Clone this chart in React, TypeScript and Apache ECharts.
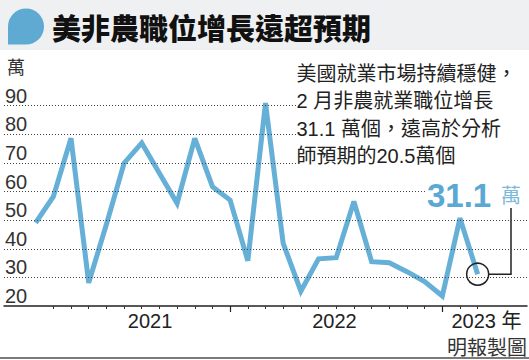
import React, { useEffect, useRef } from "react";
import * as echarts from "echarts";

// ---- data ----
const months: string[] = [
  "2021-01", "2021-02", "2021-03", "2021-04", "2021-05", "2021-06",
  "2021-07", "2021-08", "2021-09", "2021-10", "2021-11", "2021-12",
  "2022-01", "2022-02", "2022-03", "2022-04", "2022-05", "2022-06",
  "2022-07", "2022-08", "2022-09", "2022-10", "2022-11", "2022-12",
  "2023-01", "2023-02",
];
// 非農就業職位增長（萬）
const jobs: number[] = [
  49.1, 58.2, 78.6, 28.1, 48.5, 69.9, 77.0, 66.4, 55.9, 78.6, 61.7, 57.0,
  35.8, 90.9, 41.9, 25.2, 36.5, 36.9, 56.5, 35.5, 35.1, 32.0, 28.5, 23.5,
  50.7, 31.1,
];
const yearLabels: string[] = ["2021", "2022", "2023 年"];
const yearLabelPos: number[] = [6.47, 16.9, 25.5];
const yTicks: number[] = [20, 30, 40, 50, 60, 70, 80, 90];
const minorTickIdx: number[] = Array.from({ length: 25 }, (_, i) => i + 1);
const majorTickIdx: number[] = [11, 23];

const title = "美非農職位增長遠超預期";
const noteLines: string[] = [
  "美國就業市場持續穩健，",
  "2 月非農就業職位增長",
  "31.1 萬個，遠高於分析",
  "師預期的20.5萬個",
];
const bigValue = "31.1";
const unit = "萬";
const credit = "明報製圖";

// ---- layout ----
const X_MIN = -1.79;
const X_MAX = 27.79;
const BLUE = "#66b0d8";
const CJK = "'Noto Sans CJK TC', sans-serif";
const LAT = "'Liberation Sans', 'Noto Sans CJK TC', sans-serif";

echarts.graphic.registerShape(
  "logo",
  echarts.graphic.extendPath("M0,36 L0,18 A18,18 0 1 1 18,36 Z", {}) as any
);

export default function App() {
  const ref = useRef<HTMLDivElement>(null);
  useEffect(() => {
    if (!ref.current) return;
    const chart = echarts.init(ref.current, undefined, { renderer: "svg" });
    const last = jobs.length - 1;
    const gridEnds: Record<number, number> = {
      90: 14.79, 80: 14.79, 70: 14.79, 60: 22.02, 50: X_MAX, 40: X_MAX, 30: X_MAX,
    };
    const gridLines = yTicks.filter((v) => v > yTicks[0]);
    const option: any = {
      animation: false,
      backgroundColor: "#ffffff",
      grid: { left: 4, right: 2, top: 105.7, bottom: 54 },
      xAxis: [
        {
          type: "value",
          min: X_MIN,
          max: X_MAX,
          axisLine: { show: true, lineStyle: { color: "#222", width: 1.5 } },
          axisTick: {
            show: true,
            customValues: minorTickIdx,
            length: 3,
            lineStyle: { color: "#333", width: 1 },
          },
          axisLabel: {
            customValues: yearLabelPos,
            formatter: (v: number) => {
              const i = yearLabelPos.findIndex((p) => Math.abs(p - v) < 1e-6);
              return i >= 0 ? yearLabels[i] : "";
            },
            fontSize: 20,
            color: "#222",
            fontFamily: LAT,
            margin: 5,
          },
          splitLine: { show: false },
        },
        {
          type: "value",
          min: X_MIN,
          max: X_MAX,
          position: "bottom",
          axisLine: { show: false },
          axisTick: {
            show: true,
            customValues: majorTickIdx,
            length: 6,
            lineStyle: { color: "#222", width: 1.2 },
          },
          axisLabel: { show: false },
          splitLine: { show: false },
        },
      ],
      yAxis: {
        type: "value",
        min: 20,
        max: 90,
        interval: 10,
        axisLine: { show: false },
        axisTick: { show: false },
        splitLine: { show: false },
        axisLabel: {
          inside: true,
          align: "left",
          verticalAlign: "bottom",
          margin: 1,
          fontSize: 20,
          color: "#333",
          fontFamily: LAT,
        },
      },
      series: [
        {
          type: "line",
          data: [],
          silent: true,
          z: 1,
          markLine: {
            silent: true,
            symbol: ["none", "none"],
            label: { show: false },
            lineStyle: { type: [1, 2], color: "#444", width: 1 },
            data: gridLines.map((v) => [
              { coord: [X_MIN, v] },
              { coord: [gridEnds[v], v] },
            ]),
          },
        },
        {
          type: "line",
          name: "非農就業",
          data: jobs.map((v, i) => [i, v]),
          showSymbol: false,
          clip: false,
          z: 3,
          lineStyle: { color: BLUE, width: 5, join: "miter", miterLimit: 3 },
          markPoint: {
            silent: true,
            symbol: "circle",
            symbolSize: 22,
            itemStyle: { color: "rgba(0,0,0,0)", borderColor: "#222", borderWidth: 1.5 },
            label: { show: false },
            data: [{ coord: [last, jobs[last]] }],
          },
        },
      ],
      graphic: [
        { id: "bar", type: "rect", shape: { x: 0, y: 0, width: 529, height: 50 }, style: { fill: "#eef0f2" }, z: 0 },
        { id: "logo", type: "logo", x: 8, y: 8.5, scaleX: 1, scaleY: 1, style: { fill: "#5eaad3" } },
        {
          id: "title", type: "text", x: 52, y: 27,
          style: { text: title, font: `900 29px ${CJK}`, fill: "#111", verticalAlign: "middle" },
        },
        {
          id: "unitY", type: "text", x: 7, y: 66,
          style: { text: unit, font: `18px ${CJK}`, fill: "#333", verticalAlign: "middle" },
        },
        ...noteLines.map((t, i) => ({
          id: "note" + i, type: "text", x: 296.5, y: 74 + i * 27.4,
          style: { text: t, font: `20px ${LAT}`, fill: "#222", verticalAlign: "middle" },
        })),
        {
          id: "big", type: "text", x: 427, y: 195,
          style: { text: bigValue, font: `bold 33px ${LAT}`, fill: "#5aa8d4", verticalAlign: "middle" },
        },
        {
          id: "bigUnit", type: "text", x: 501, y: 194,
          style: { text: unit, font: `20px ${CJK}`, fill: "#7cb9da", verticalAlign: "middle" },
        },
        {
          id: "credit", type: "text", x: 527, y: 346,
          style: { text: credit, font: `20px ${CJK}`, fill: "#333", align: "right", verticalAlign: "middle" },
        },
        { id: "border", type: "rect", shape: { x: 0, y: 357, width: 529, height: 2 }, style: { fill: "#7a7a7a" } },
      ],
    };
    chart.setOption(option);
    const p = chart.convertToPixel({ gridIndex: 0 } as any, [last, jobs[last]]) as number[];
    if (p) {
      chart.setOption({
        graphic: [
          {
            id: "conn", type: "polyline",
            shape: { points: [[p[0] + 11, p[1]], [511, p[1]], [511, 208]] },
            style: { stroke: "#222", lineWidth: 1.5, fill: "none" },
          },
        ],
      });
    }
    return () => chart.dispose();
  }, []);
  return (
    <div
      ref={ref}
      style={{ position: "fixed", left: 0, top: 0, width: 529, height: 360, background: "#fff" }}
    />
  );
}
